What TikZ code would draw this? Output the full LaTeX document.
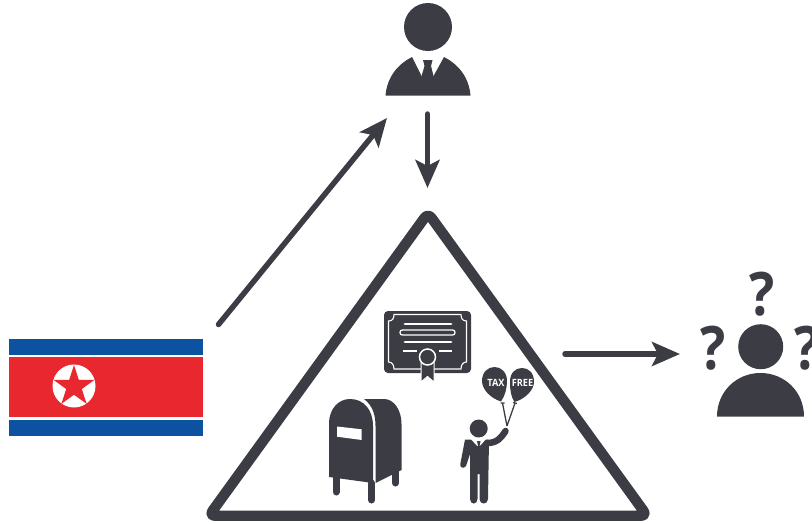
\documentclass[tikz,border=0pt]{standalone}
\usepackage{fontspec}
\setmainfont{Open Sans}
\newfontfamily\balloonfont[FakeStretch=0.92]{Open Sans}
\newfontfamily\askfont[FakeStretch=0.88]{Open Sans}
\usetikzlibrary{arrows.meta,shapes.geometric}
\definecolor{icondark}{HTML}{3C3C44}
\definecolor{flagblue}{HTML}{0D52A1}
\definecolor{flagred}{HTML}{E9272E}
\tikzset{
	flowarrow/.style={draw=icondark,line width=5.5pt,line cap=round,-{Stealth[length=28pt,width=24pt,inset=6pt]}},
	whiteline/.style={draw=white,line width=2.8pt,line cap=round},
	askmark/.style={text=icondark,font=\askfont\fontsize{60pt}{60pt}\selectfont\bfseries,inner sep=0pt},
	balloonlabel/.style={text=white,font=\balloonfont\fontsize{10pt}{10pt}\selectfont\bfseries,inner sep=0pt}
}
\begin{document}
\begin{tikzpicture}[x=1pt,y=-1pt]
	\clip (0,0) rectangle (812,523);
	
	% arrow ends
	\coordinate (flagout) at (218.5,324.5);
	\coordinate (bossin) at (387,118);
	\coordinate (bossout) at (427.5,114);
	\coordinate (triin) at (427.5,188);
	\coordinate (triout) at (565,354);
	\coordinate (askin) at (680,354);
	
	\draw[flowarrow] (flagout) -- (bossin);
	\draw[flowarrow] (bossout) -- (triin);
	\draw[flowarrow] (triout) -- (askin);
	
	% top person
	\node[circle,fill=icondark,inner sep=0pt,minimum size=48pt] (bosshead) at (428,27){};
	\fill[icondark] (385.5,95.5) .. controls (387,77) and (398,64) .. (412,57) -- (422,77) -- (433,77) -- (444,57) .. controls (458,64) and (469,77) .. (470.5,95.5) -- cycle;
	\fill[icondark] (423,60) -- (432.5,60) -- (431,66) -- (434,78) -- (421,78) -- (424.5,66) -- cycle;
	
	% flag
	\fill[flagblue] (9,339) rectangle (203,355);
	\fill[flagred] (9,357) rectangle (203,417);
	\fill[flagblue] (9,420) rectangle (203,436);
	\node[circle,fill=white,inner sep=0pt,minimum size=43pt] (flagdisc) at (74,386){};
	\node[star,star points=5,star point ratio=2.618,fill=flagred,inner sep=0pt,minimum size=43pt] (flagstar) at (74,386.5){};
	
	% triangle
	\draw[icondark,line width=10.4pt,line join=round,rounded corners=6pt] (428,213) -- (647,515.7) -- (209,515.7) -- cycle;
	
	% certificate
	\fill[icondark,rounded corners=4pt] (384,311) rectangle (471,373);
	\draw[white,line width=1.1pt] (394,314.5) -- (461,314.5) .. controls (461,319) and (463,321) .. (466.5,321) -- (466.5,362) .. controls (463,362) and (461,365) .. (461,369) -- (394,369) .. controls (394,365) and (392,362) .. (388.5,362) -- (388.5,321) .. controls (392,321) and (394,319) .. (394,314.5) -- cycle;
	\draw[whiteline] (405,324) -- (451,324);
	\draw[white,line width=1.2pt,rounded corners=2.3pt] (400,330) rectangle (455,335);
	\draw[whiteline] (405,342) -- (451,342);
	\draw[whiteline,line cap=butt] (403,351) -- (417,351);
	\draw[whiteline,line cap=butt] (439,351) -- (452,351);
	\fill[icondark,draw=white,line width=1pt] (421,358) -- (434,358) -- (434,382) -- (427.5,376.5) -- (421,382) -- cycle;
	\node[circle,fill=icondark,draw=white,line width=1.5pt,inner sep=0pt,minimum size=16pt] (certseal) at (427.5,357){};
	
	% mailbox
	\fill[icondark] (329,477) -- (329,424) .. controls (329,408) and (339,399) .. (350,399) .. controls (364,399) and (373,410) .. (373,426) -- (373,483) -- cycle;
	\fill[icondark] (364,399) -- (384,399) .. controls (394,399) and (401.5,410) .. (401.5,424) -- (401.5,470) -- (375.5,483) -- (375.5,426) .. controls (375.5,414) and (372,405) .. (364,399) -- cycle;
	\fill[white] (337,426.5) -- (361.7,429.3) -- (361.7,440) -- (337,436.7) -- cycle;
	\draw[icondark,line width=7pt,line cap=round] (336,478) -- (336,492);
	\draw[icondark,line width=7pt,line cap=round] (371.5,483) -- (371.5,500);
	\draw[icondark,line width=7pt,line cap=round] (395.5,470) -- (395.5,483);
	
	% man with balloons
	\node[circle,fill=icondark,inner sep=0pt,minimum size=18pt] (manhead) at (478.7,428.5){};
	\fill[icondark] (465,439.5) -- (471,439.5) -- (477,446) -- (480,446) -- (486,439.5) -- (489,440) -- (488,499) .. controls (488,505) and (479.5,505) .. (479.5,499) -- (479.5,474) -- (477.5,474) -- (477.5,499) .. controls (477.5,505) and (470,505) .. (470,499) -- (470,454) -- (466,466) .. controls (464,469) and (459,468) .. (460.5,463) -- cycle;
	\fill[icondark] (477,441) -- (480.5,441) -- (480,444) -- (479.5,446) -- (478,446) -- cycle;
	\draw[icondark,line width=6.5pt,line cap=round] (487,443) .. controls (497,443) and (501,438) .. (505.5,431);
	\draw[icondark,line width=1.3pt] (507,426) -- (502.5,403) (507,426) -- (515,403);
	\draw[icondark,line width=1.3pt] (500.5,403) -- (504.5,403) (513,402.5) -- (517,403.5);
	\fill[icondark] (494.5,367) .. controls (488,367) and (482,372) .. (482,381) .. controls (482,389) and (490,398) .. (501,401.5) .. controls (505,396) and (507,388) .. (507,381) .. controls (507,372) and (501,367) .. (494.5,367) -- cycle;
	\fill[icondark] (522,368) .. controls (515,368) and (510,373) .. (510,382) .. controls (510,390) and (511,397) .. (514.5,402) .. controls (525,399) and (534,390) .. (534,382) .. controls (534,373) and (529,368) .. (522,368) -- cycle;
	\node[balloonlabel] (taxlabel) at (496,382.5){TAX};
	\node[balloonlabel] (freelabel) at (522.5,382.5){FREE};
	
	% person with question marks
	\node[circle,fill=icondark,inner sep=0pt,minimum size=45pt] (askhead) at (760.7,346.7){};
	\fill[icondark] (717,416.7) .. controls (717,391) and (737,373) .. (760.5,373) .. controls (784,373) and (804,391) .. (804,416.7) -- cycle;
	\node[askmark] (asktop) at (762,294){?};
	\node[askmark] (askleft) at (713.5,348){?};
	\node[askmark] (askright) at (807.5,348){?};
\end{tikzpicture}
\end{document}
